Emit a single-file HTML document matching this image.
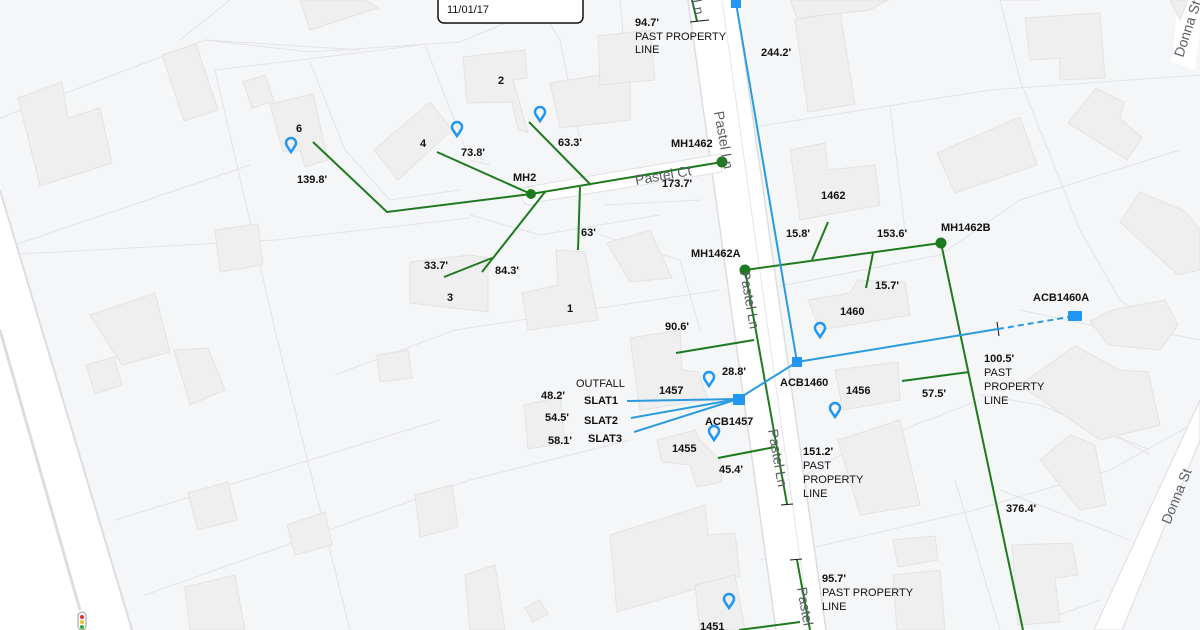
<!DOCTYPE html>
<html><head><meta charset="utf-8"><style>
html,body{margin:0;padding:0;width:1200px;height:630px;overflow:hidden;background:#f5f6f8}
svg{display:block}
text{font-family:"Liberation Sans",Arial,sans-serif;font-size:11px;fill:#111}
.b{font-weight:bold}
.rd{fill:#5a5d63;font-size:14px}
</style></head><body>
<svg width="1200" height="630" viewBox="0 0 1200 630" xmlns="http://www.w3.org/2000/svg">
<rect width="1200" height="630" fill="#f5f6f8"/>
<!-- property lines -->
<g stroke="#e2e3e6" stroke-width="1" fill="none">
<path d="M0 118 L205 40 L360 50"/>
<path d="M180 40 L230 0"/><path d="M205 40 L310 52 L460 42 L560 0"/>
<path d="M215 70 L300 60 L420 45"/>
<path d="M215 70 L275 330 L350 630"/>
<path d="M310 62 L345 150 L390 200 L460 190"/>
<path d="M425 45 L470 160 L490 165"/>
<path d="M0 250 L250 165"/>
<path d="M20 254 L275 240"/>
<path d="M275 240 L470 218"/>
<path d="M115 520 L440 420"/>
<path d="M145 595 L470 480 L630 440"/>
<path d="M335 375 L455 330 L720 290"/>
<path d="M535 0 L560 40 L580 140"/>
<path d="M620 0 L630 110"/>
<path d="M605 205 L700 200"/>
<path d="M600 235 L680 260 L700 330"/>
<path d="M470 215 L540 235 L660 215"/>
<path d="M735 130 L990 90 L1200 75"/>
<path d="M1000 0 L1020 80 L1080 230 L1120 300 L1160 330"/>
<path d="M1000 0 L1040 0"/>
<path d="M890 105 L905 230"/>
<path d="M760 290 L940 255"/>
<path d="M940 255 L1020 200 L1180 150"/>
<path d="M760 500 L850 450 L980 400"/>
<path d="M760 560 L975 510 L1110 470 L1200 420"/>
<path d="M980 395 L1040 405 L1150 450"/>
<path d="M955 480 L1000 630"/>
<path d="M1120 320 L1150 330 L1200 340"/>
<path d="M1020 310 L1160 340"/>
<path d="M1050 400 L1150 455"/>
<path d="M1000 490 L1130 540"/>
<path d="M1045 620 L1100 600"/>
</g>
<!-- roads -->
<polygon points="0,185 0,630 132,630" fill="#fff"/>
<path d="M0 190 L132 630" stroke="#dcdde1" stroke-width="2" fill="none"/>
<path d="M0 330 L80 610" stroke="#dcdde1" stroke-width="3" fill="none"/>
<polygon points="688,0 736,0 826,630 776,630" fill="#fff"/>
<path d="M688 0 L776 630 M736 0 L826 630" stroke="#dcdde1" stroke-width="1.5" fill="none"/>
<path d="M722 0 L810 630" stroke="#e4e5e8" stroke-width="1" fill="none"/>
<polygon points="520,188 720,154 722,172 525,204" fill="#fff" stroke="#e0e1e4"/>
<circle cx="531" cy="196" r="9" fill="#fff" stroke="#e0e1e4"/>
<polygon points="1178,0 1200,0 1200,30 1195,70 1172,62" fill="#fff"/>
<polygon points="1200,400 1200,440 1122,630 1094,630" fill="#fff" stroke="#dcdde1"/>
<!-- buildings -->
<g fill="#efefef" stroke="#e3e3e3" stroke-width="1">
<polygon points="18,98 62,82 68,118 100,108 112,163 40,186"/>
<polygon points="162,55 196,44 218,110 184,121"/>
<polygon points="243,82 265,75 274,101 252,108"/>
<polygon points="270,104 313,94 328,160 305,167 300,150 283,152"/>
<polygon points="374,150 430,102 452,130 398,180"/>
<polygon points="463,57 525,50 527,78 513,80 528,132 518,130 512,102 467,103"/>
<polygon points="550,83 600,75 630,70 630,120 560,128"/>
<polygon points="598,36 650,30 655,80 600,85"/>
<polygon points="300,0 365,0 378,8 310,30"/>
<polygon points="215,230 258,224 263,265 220,272"/>
<polygon points="90,315 155,293 170,352 122,365"/>
<polygon points="86,365 114,357 122,385 95,394"/>
<polygon points="174,350 208,348 225,390 190,405"/>
<polygon points="377,355 408,350 412,378 380,382"/>
<polygon points="410,262 470,255 488,258 488,312 410,303"/>
<polygon points="522,293 558,285 556,250 585,252 598,320 528,330"/>
<polygon points="607,243 650,230 672,278 630,282"/>
<polygon points="630,338 680,330 682,370 698,372 708,400 640,410"/>
<polygon points="524,405 560,397 565,443 528,449"/>
<polygon points="657,440 695,430 700,440 720,460 722,482 697,487 690,465 662,462"/>
<polygon points="188,493 228,482 237,520 198,530"/>
<polygon points="415,495 452,485 458,527 420,537"/>
<polygon points="610,535 705,505 708,535 735,533 740,576 617,612"/>
<polygon points="287,525 325,512 332,545 295,555"/>
<polygon points="185,587 235,575 245,630 190,630"/>
<polygon points="465,575 495,565 505,630 470,630"/>
<polygon points="525,608 540,600 548,614 533,622"/>
<polygon points="695,585 735,575 745,630 700,630"/>
<polygon points="790,150 825,143 828,170 875,165 880,205 800,220"/>
<polygon points="795,20 840,12 855,104 808,112"/>
<polygon points="790,0 888,0 870,10 797,18"/>
<polygon points="937,153 1020,117 1037,165 955,193"/>
<polygon points="1025,18 1100,13 1105,78 1060,80 1060,58 1030,60"/>
<polygon points="1068,123 1096,88 1124,102 1120,118 1142,138 1127,160"/>
<polygon points="1120,222 1140,192 1185,211 1200,230 1200,270 1178,275"/>
<polygon points="1090,321 1112,310 1165,300 1178,325 1160,350 1108,345"/>
<polygon points="808,300 850,293 858,280 905,282 910,315 820,330"/>
<polygon points="835,370 898,362 900,400 843,410"/>
<polygon points="838,440 900,420 920,505 860,515"/>
<polygon points="1020,385 1075,346 1120,370 1148,372 1160,425 1100,440"/>
<polygon points="1040,460 1070,435 1095,445 1106,505 1080,510"/>
<polygon points="1012,545 1072,543 1078,575 1055,578 1060,622 1018,625"/>
<polygon points="893,540 935,536 938,560 898,567"/>
<polygon points="893,575 940,570 945,630 897,630"/>
<polygon points="1170,0 1188,0 1180,20"/>
</g>
<!-- green lines -->
<g stroke="#1e7a1e" stroke-width="2" fill="none">
<path d="M313 142 L387 212 L531 194"/>
<path d="M437 152 L531 194"/>
<path d="M531 194 L722 162"/>
<path d="M529 122 L591 185"/>
<path d="M580 187 L578 250"/>
<path d="M545 192 L482 272"/>
<path d="M444 277 L492 258"/>
<path d="M745 270 L941 243"/>
<path d="M812 260 L828 222"/>
<path d="M873 253 L866 288"/>
<path d="M941 243 L1023 630"/>
<path d="M969 372 L902 381"/>
<path d="M745 270 L787 504"/>
<path d="M797 560 L810 630"/>
<path d="M692 0 L697 21"/>
<path d="M676 353 L754 340"/>
<path d="M718 458 L775 447"/>
<path d="M739 630 L800 622"/>
</g>
<g stroke="#111" stroke-width="1">
<path d="M690 22 L709 20"/><path d="M781 505 L793 504"/><path d="M790 560 L802 559"/>
<path d="M997 322 L999 336"/>
</g>
<g fill="#1e7a1e">
<circle cx="531" cy="194" r="5"/><circle cx="722" cy="162" r="5.5"/>
<circle cx="745" cy="270" r="5.5"/><circle cx="941" cy="243" r="5.5"/>
</g>
<!-- blue lines -->
<g stroke="#2b9be0" stroke-width="2" fill="none">
<path d="M736 3 L797 362"/>
<path d="M797 362 L998 329"/>
<path d="M998 329 L1075 316" stroke-dasharray="6 4"/>
<path d="M797 362 L738 399"/>
<path d="M738 399 L627 401"/>
<path d="M738 399 L631 418"/>
<path d="M738 399 L634 432"/>
</g>
<g fill="#2196f3">
<rect x="731" y="0" width="10" height="8"/>
<rect x="792" y="357" width="10" height="10"/>
<rect x="733" y="394" width="12" height="11"/>
<rect x="1068" y="311" width="14" height="10" rx="1"/>
</g>
<!-- pins -->
<g fill="none" stroke="#2196f3" stroke-width="2.5">
<path d="M291 152 l-4 -6 a5 5 0 1 1 8 0 z" transform="translate(0,0)"/>
<path d="M457 136 l-4 -6 a5 5 0 1 1 8 0 z"/>
<path d="M540 121 l-4 -6 a5 5 0 1 1 8 0 z"/>
<path d="M709 386 l-4 -6 a5 5 0 1 1 8 0 z"/>
<path d="M820 337 l-4 -6 a5 5 0 1 1 8 0 z"/>
<path d="M835 417 l-4 -6 a5 5 0 1 1 8 0 z"/>
<path d="M714 440 l-4 -6 a5 5 0 1 1 8 0 z"/>
<path d="M729 608 l-4 -6 a5 5 0 1 1 8 0 z"/>
</g>
<!-- traffic light -->
<rect x="78" y="612" width="8" height="18" rx="4" fill="#fff" stroke="#999"/>
<circle cx="82" cy="617" r="2" fill="#d33"/><circle cx="82" cy="622" r="2" fill="#eb3"/><circle cx="82" cy="627" r="2" fill="#3a3"/>
<!-- date box -->
<rect x="438" y="-12" width="145" height="35" rx="6" fill="#fff" stroke="#111" stroke-width="1.5"/>
<text x="447" y="13">11/01/17</text>
<!-- road labels -->
<text class="rd" transform="translate(636,185) rotate(-10)">Pastel Ct</text>
<text class="rd" transform="translate(714,112) rotate(80)">Pastel Ln</text>
<text class="rd" transform="translate(740,272) rotate(80)">Pastel Ln</text>
<text class="rd" transform="translate(768,430) rotate(80)">Pastel Ln</text>
<text class="rd" transform="translate(797,588) rotate(80)">Pastel</text>
<text class="rd" transform="translate(692,0) rotate(80)">Ln</text>
<text class="rd" transform="translate(1183,58) rotate(-72)">Donna St</text>
<text class="rd" transform="translate(1170,525) rotate(-68)">Donna St</text>
<!-- labels -->
<g class="b">
<text x="296" y="132">6</text><text x="498" y="84">2</text><text x="420" y="147">4</text>
<text x="447" y="301">3</text><text x="567" y="312">1</text>
<text x="461" y="156">73.8'</text><text x="558" y="146">63.3'</text>
<text x="297" y="183">139.8'</text><text x="513" y="181">MH2</text>
<text x="671" y="147">MH1462</text><text x="662" y="187">173.7'</text>
<text x="581" y="236">63'</text><text x="424" y="269">33.7'</text><text x="495" y="274">84.3'</text>
<text x="635" y="26">94.7'</text><text x="761" y="56">244.2'</text>
<text x="821" y="199">1462</text><text x="786" y="237">15.8'</text><text x="877" y="237">153.6'</text>
<text x="941" y="231">MH1462B</text><text x="691" y="257">MH1462A</text>
<text x="875" y="289">15.7'</text><text x="840" y="315">1460</text>
<text x="1033" y="301">ACB1460A</text><text x="665" y="330">90.6'</text>
<text x="722" y="375">28.8'</text><text x="659" y="394">1457</text>
<text x="780" y="386">ACB1460</text><text x="846" y="394">1456</text>
<text x="922" y="397">57.5'</text><text x="984" y="362">100.5'</text>
<text x="541" y="399">48.2'</text><text x="584" y="404">SLAT1</text>
<text x="545" y="421">54.5'</text><text x="584" y="424">SLAT2</text>
<text x="548" y="444">58.1'</text><text x="588" y="442">SLAT3</text>
<text x="705" y="425">ACB1457</text><text x="672" y="452">1455</text>
<text x="719" y="473">45.4'</text><text x="803" y="455">151.2'</text>
<text x="1006" y="512">376.4'</text><text x="822" y="582">95.7'</text>
<text x="700" y="630">1451</text>
</g>
<text x="635" y="40">PAST PROPERTY</text><text x="635" y="53">LINE</text>
<text x="576" y="387">OUTFALL</text>
<text x="984" y="376">PAST</text><text x="984" y="390">PROPERTY</text><text x="984" y="404">LINE</text>
<text x="803" y="469">PAST</text><text x="803" y="483">PROPERTY</text><text x="803" y="497">LINE</text>
<text x="822" y="596">PAST PROPERTY</text><text x="822" y="610">LINE</text>
</svg>
</body></html>
